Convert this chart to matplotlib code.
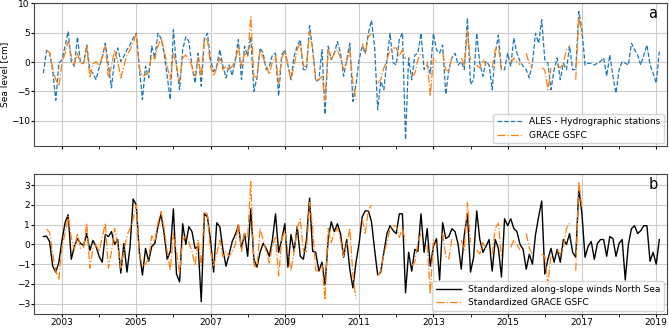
import numpy as np
import matplotlib
matplotlib.use("Agg")
import matplotlib.pyplot as plt
from matplotlib.ticker import FixedLocator

nan = np.nan

# monthly series, Jul 2002 .. Feb 2019
START = 2002.5

# ALES - Hydrographic stations [cm]
ales = [
    -1.9, 2.0, 1.6, -1.5, -6.5, -0.2,                               # 2002
    0.4, 2.7, 5.2, 0.1, -0.7, 4.3, -0.2, -0.2, 2.9, -1.3, -1.9, -3.0,  # 2003
    -1.0, 0.7, 3.2, -0.5, -4.4, 0.4, 2.4, 0.1, 1.0, 2.1, 2.9, 4.1,     # 2004
    4.9, -1.0, -6.4, -0.7, -2.7, 2.7, 0.7, 4.9, 4.1, 1.5, -2.4, -6.4,  # 2005
    5.5, -0.7, -4.7, 2.1, 4.3, 3.5, -0.7, -3.6, 1.5, -4.1, 3.8, 4.9,   # 2006
    0.4, -1.6, -0.7, 2.1, -0.7, -2.7, -0.5, -2.3, 0.4, 3.8, -3.0, 2.7, # 2007
    1.0, 4.3, -5.0, -2.7, 2.4, 1.5, -1.3, -0.7, 1.2, 1.5, -5.8, 1.2,   # 2008
    2.1, -0.5, -3.0, 1.0, 2.7, 3.8, -1.3, -1.3, 6.2, 2.1, -3.3, -3.0,  # 2009
    2.1, -8.9, 2.7, 0.4, 1.5, 3.5, 1.5, -2.4, 0.4, 3.2, -6.7, -3.8,    # 2010
    0.4, 2.7, 1.5, 4.9, 7.1, 2.7, -8.1, -3.3, -4.7, 0.4, 4.9, -0.1,    # 2011
    -0.5, 3.8, 5.0, -13.2, 0.7, -3.0, 1.2, 1.5, 4.9, -1.3, -0.5, -2.0, # 2012
    4.9, 2.1, 1.5, 2.9, -5.5, -1.3, 0.7, 1.5, -0.5, 0.1, -1.3, 7.5,    # 2013
    -3.8, -3.0, 4.9, -0.2, -2.4, 0.1, -0.5, -4.7, 1.5, 4.6, -1.3, -1.3,  # 2014
    1.5, -0.7, 4.1, 1.5, 0.1, -0.7, -1.3, -2.7, -0.2, 4.9, 3.2, 7.2,   # 2015
    0.4, -0.2, -4.7, -1.3, 0.7, -3.0, -0.2, -1.3, 2.7, -1.3, -1.3, 8.6,  # 2016
    5.5, -0.5, -0.2, -0.2, -0.5, -0.2, 0.1, 0.7, -2.4, 1.2, -2.4, -5.3,  # 2017
    -1.3, 0.1, -0.2, -0.5, 3.2, 2.1, 1.2, -0.5, 1.2, 2.9, -0.5, -1.9,  # 2018
    -3.6, 1.8,                                                      # 2019
]

# GRACE GSFC [cm]
grace = [
    nan, 2.0, 1.6, -1.0, -3.0, -4.1,
    -0.2, 1.5, 3.5, 1.0, -0.5, 1.5, -0.3, -0.2, 2.7, -2.7, -0.3, 0.1,
    -0.7, 1.0, 2.7, -2.7, -0.7, 2.1, 0.1, -2.7, -0.7, 1.2, 2.1, 3.2,
    4.9, -1.0, -2.4, -2.2, -1.6, 1.2, 0.5, 2.7, 4.1, 2.1, -0.7, -3.0,
    1.5, -0.7, -3.3, 0.7, 1.2, 0.4, -0.7, -2.4, 0.7, -2.4, 4.1, 3.8,
    -0.7, -2.4, -1.0, 0.7, -1.3, -0.7, -1.3, -0.7, 0.1, 2.7, -0.7, 1.5,
    1.0, 7.7, -2.4, -2.7, 2.1, 0.7, -0.7, -2.1, 0.1, 1.0, -3.6, 0.7,
    1.8, -0.7, -3.0, -0.7, 2.1, 3.2, -0.7, -0.7, 5.2, 2.1, -3.0, -3.0,
    -2.4, -6.5, 2.1, 0.4, 1.5, 2.1, 0.7, -1.3, 0.1, 2.1, -3.5, -6.4,
    nan, 3.2, 1.5, 4.3, 4.9, nan, -3.6, -3.0, -1.0, 0.4, 2.1, 2.4,
    2.4, 1.0, 2.1, 0.5, nan, -2.4, -2.0, 0.4, 1.5, nan, 0.1, -5.8,
    0.7, 0.1, nan, 1.5, -1.3, -1.6, 0.9, nan, nan, 0.7, -0.5, 5.2,
    0.4, nan, -0.5, -1.0, 0.4, -0.5, nan, -1.0, 2.1, 2.7, -1.3, nan,
    nan, -0.2, 0.7, 0.1, -0.5, nan, 1.5, -0.3, -1.0, nan, nan, -1.0,
    -1.3, -4.7, -1.0, nan, -0.5, -1.0, -0.2, 2.1, 2.7, nan, -3.0, 7.7,
    4.5, nan, nan, nan, nan, nan, nan, nan, nan, nan, nan, nan,
    nan, nan, nan, nan, nan, nan, nan, nan, nan, nan, nan, nan,
    nan, nan,
]

# standardized along-slope winds North Sea
winds = [
    0.4, 0.42, 0.15, -1.1, -1.4, -0.9,
    0.2, 1.1, 1.5, -0.75, -0.1, 0.3, 0.05, -0.05, 0.55, -0.3, 0.2, -0.1,
    -0.6, -0.9, 0.5, 0.4, 0.65, 0.0, 0.25, -1.45, 0.05, -1.4, -0.1, 2.3,
    2.0, -0.4, -1.55, -0.2, -0.85, -0.1, 0.05, 0.9, 1.55, 0.55, -0.75, -0.35,
    1.8, -1.5, -1.9, 1.05, 0.0, 0.9, 0.65, -0.2, -0.1, -2.9, 1.55, 1.4,
    0.2, -1.4, 1.1, 0.9, -0.25, -1.1, -0.5, 0.15, 0.5, 0.95, -0.2, 0.55,
    -0.6, 1.8, -0.75, -1.15, -0.4, 0.05, -0.2, -0.6, 0.25, 1.55, -0.4, 0.25,
    1.05, -1.15, 0.5, -0.35, 0.9, -0.6, -0.75, 0.25, 2.35, -0.35, -0.4, -1.35,
    -0.9, -2.05, 0.25, 1.15, 0.65, 1.05, 0.55, -0.65, 0.25, -1.25, -2.2, -0.9,
    0.05, 1.4, 1.7, 1.7, 1.15, -0.25, -1.55, -1.4, -0.4, 0.55, 0.95, 0.7,
    0.55, 1.55, 1.55, -2.45, -0.4, -1.35, -0.25, -0.35, 1.55, -0.4, 0.8, -1.1,
    -0.1, 0.3, -1.8, 1.1, 0.3, 0.4, 0.8, 0.65, 0.0, -1.25, 0.5, 1.55,
    -1.4, -0.65, 1.7, 0.25, -0.4, -0.1, 0.25, -1.35, 0.25, -0.2, -1.65, 1.3,
    0.95, 1.3, 0.8, 0.65, 0.0, -0.25, -1.25, -0.5, -1.0, 0.5, 1.4, 2.2,
    -1.5, -0.75, -0.2, -0.9, -0.25, -0.9, 0.25, 0.0, 0.55, -0.4, -0.65, 2.85,
    1.55, -0.65, -0.1, 0.15, -0.75, 0.05, 0.25, 0.25, -0.6, 0.4, 0.3, -0.6,
    0.05, 0.25, -1.8, 0.0, 0.8, 0.95, 0.55, 0.7, 0.95, 0.95, -0.85, -0.4,
    -1.0, 0.25,
]

ales = np.array(ales)
grace = np.array(grace)
winds = np.array(winds)
t = START + np.arange(len(ales)) / 12.0

# standardized GRACE
grace_std = (grace - np.nanmean(grace)) / np.nanstd(grace)

BLUE = "#1f77b4"
ORANGE = "#ff7f0e"
FS = 6.5

fig = plt.figure(figsize=(6.69, 3.29), dpi=100)
ax1 = fig.add_axes([0.051, 0.556, 0.946, 0.434])
ax2 = fig.add_axes([0.051, 0.047, 0.946, 0.423])

ax1.plot(t, ales, ls="--", color=BLUE, lw=0.9, label="ALES - Hydrographic stations")
ax1.plot(t, grace, ls="-.", color=ORANGE, lw=0.9, label="GRACE GSFC")
ax1.set_ylim(-14.3, 10)
ax1.set_yticks([-10, -5, 0, 5, 10])
ax1.set_ylabel("Sea level [cm]", fontsize=FS)
ax1.yaxis.set_label_coords(-0.04, 0.5)
ax1.legend(loc="lower right", fontsize=FS, handlelength=2.8, borderaxespad=0.3)
ax1.text(0.985, 0.93, "a", transform=ax1.transAxes, ha="right", va="center", fontsize=10.5)

ax2.plot(t, winds, color="black", lw=1.0, label="Standardized along-slope winds North Sea")
ax2.plot(t, grace_std, ls="-.", color=ORANGE, lw=0.9, label="Standardized GRACE GSFC")
ax2.set_ylim(-3.5, 3.55)
ax2.set_yticks([-3, -2, -1, 0, 1, 2, 3])
ax2.legend(loc="lower right", fontsize=FS, handlelength=2.8, borderaxespad=0.3)
ax2.text(0.985, 0.93, "b", transform=ax2.transAxes, ha="right", va="center", fontsize=10.5)

for ax in (ax1, ax2):
    ax.set_xlim(2002.25, 2019.29)
    ax.xaxis.set_major_locator(FixedLocator(np.arange(2003, 2020, 2)))
    ax.xaxis.set_minor_locator(FixedLocator(np.arange(2004, 2019, 2)))
    ax.grid(True, which="major", color="#cccccc", lw=0.8)
    ax.tick_params(labelsize=FS, pad=1, length=2)
    ax.tick_params(which="minor", length=1.8)
    for s in ax.spines.values():
        s.set_color("#444444")

ax1.set_xticklabels([])
ax2.set_xticklabels([str(y) for y in range(2003, 2020, 2)])

fig.savefig("out.png", dpi=100)
